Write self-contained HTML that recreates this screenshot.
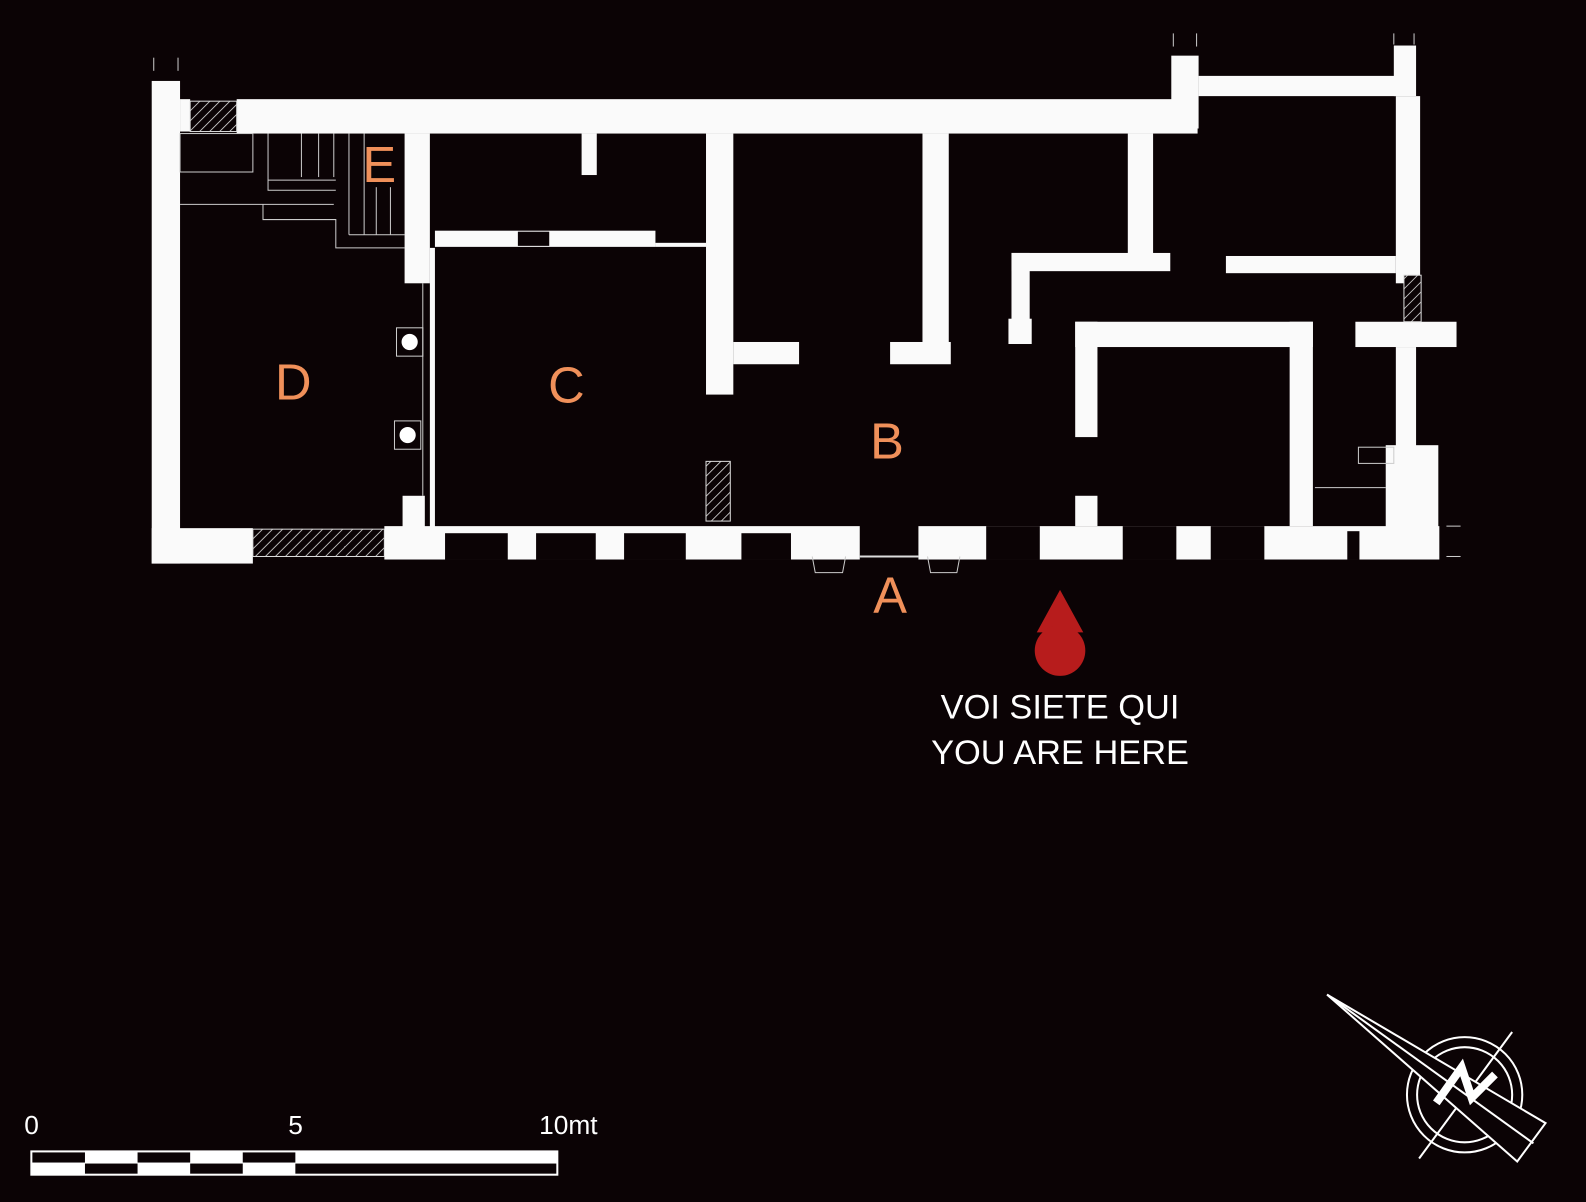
<!DOCTYPE html>
<html><head><meta charset="utf-8"><style>
html,body{margin:0;padding:0;background:#0b0305;}
svg{display:block}
text{font-family:"Liberation Sans",sans-serif;}
</style></head><body>
<svg width="1586" height="1202" viewBox="0 0 1568 1188" preserveAspectRatio="none" xmlns="http://www.w3.org/2000/svg">
<defs>
<pattern id="h" width="7" height="7" patternUnits="userSpaceOnUse" patternTransform="rotate(45)">
<rect width="7" height="7" fill="#0b0305"/><line x1="0" y1="0" x2="0" y2="7" stroke="#ddd" stroke-width="1.6"/></pattern>
</defs>
<rect width="1568" height="1188" fill="#0b0305"/>
<g fill="#fafafa">
<!-- outer left -->
<rect x="150" y="80" width="28" height="477"/>
<rect x="178" y="98" width="10" height="32"/>
<rect x="234" y="98" width="950" height="34"/>
<rect x="1158" y="55" width="27" height="72"/>
<rect x="1185" y="75" width="195" height="20"/>
<rect x="1378" y="45" width="22" height="50"/>
<rect x="1380" y="95" width="24" height="185"/>
<!-- bottom -->
<rect x="150" y="522" width="100" height="35"/>
<rect x="380" y="520" width="470" height="33"/>
<rect x="908" y="520" width="515" height="33"/>
<!-- E/C divider -->
<rect x="400" y="132" width="25" height="148"/>
<rect x="398" y="490" width="22" height="35"/>
<rect x="425" y="245" width="5" height="277"/>
<rect x="430" y="228" width="218" height="16"/>
<rect x="648" y="240" width="50" height="4"/>
<rect x="575" y="132" width="15" height="41"/>
<rect x="698" y="132" width="27" height="258"/>
<rect x="725" y="338" width="65" height="22"/>
<rect x="912" y="132" width="26" height="208"/>
<rect x="880" y="338" width="60" height="22"/>
<rect x="1115" y="132" width="25" height="120"/>
<rect x="1000" y="250" width="157" height="18"/>
<rect x="1000" y="250" width="18" height="90"/>
<rect x="997" y="315" width="23" height="25"/>
<rect x="1212" y="253" width="168" height="17"/>
<rect x="1063" y="318" width="235" height="25"/>
<rect x="1063" y="318" width="22" height="114"/>
<rect x="1275" y="318" width="23" height="202"/>
<rect x="1063" y="490" width="22" height="30"/>
<rect x="1340" y="318" width="100" height="25"/>
<rect x="1380" y="343" width="20" height="180"/>
<rect x="1370" y="440" width="52" height="110"/>
</g>
<!-- window gaps -->
<g fill="#0b0305">
<rect x="440" y="527" width="62" height="26"/><rect x="530" y="527" width="59" height="26"/>
<rect x="617" y="527" width="61" height="26"/><rect x="733" y="527" width="49" height="26"/>
<rect x="975" y="520" width="53" height="33"/><rect x="1110" y="520" width="53" height="33"/>
<rect x="1197" y="520" width="53" height="33"/><rect x="512" y="229" width="31" height="14"/>
<rect x="1332" y="525" width="12" height="28"/>
</g>
<rect x="250" y="523" width="130" height="27" fill="url(#h)" stroke="#ddd"/>
<rect x="188" y="100" width="46" height="30" fill="url(#h)" stroke="#ddd"/>
<rect x="698" y="456" width="24" height="59" fill="url(#h)" stroke="#ddd"/>
<rect x="1388" y="272" width="17" height="46" fill="url(#h)" stroke="#ddd"/>
<line x1="850" y1="550" x2="908" y2="550" stroke="#ddd" stroke-width="2"/>
<!-- stairs E -->
<g stroke="#ccc" stroke-width="1" fill="none">
<rect x="178" y="132" width="72" height="38"/><line x1="178" y1="202" x2="330" y2="202"/>
<polyline points="260,202 260,217 332,217 332,245 400,245"/>
<polyline points="265,132 265,188 332,188"/><line x1="298" y1="132" x2="298" y2="175"/>
<line x1="315" y1="132" x2="315" y2="175"/><line x1="330" y1="132" x2="330" y2="175"/>
<line x1="345" y1="132" x2="345" y2="232"/><line x1="360" y1="132" x2="360" y2="232"/>
<line x1="372" y1="185" x2="372" y2="232"/><line x1="386" y1="185" x2="386" y2="232"/>
<line x1="265" y1="178" x2="332" y2="178"/><line x1="345" y1="232" x2="400" y2="232"/>
<line x1="418" y1="280" x2="418" y2="490"/>
<line x1="1300" y1="482" x2="1370" y2="482"/><rect x="1343" y="442" width="35" height="16"/>
<line x1="1430" y1="520" x2="1444" y2="520"/><line x1="1430" y1="550" x2="1444" y2="550"/>
<line x1="152" y1="57" x2="152" y2="70"/><line x1="176" y1="57" x2="176" y2="70"/>
<line x1="1160" y1="33" x2="1160" y2="46"/><line x1="1183" y1="33" x2="1183" y2="46"/>
<line x1="1378" y1="33" x2="1378" y2="44"/><line x1="1398" y1="33" x2="1398" y2="44"/>
<rect x="392" y="324" width="26" height="28"/><rect x="390" y="416" width="26" height="28"/>
<path d="M803 550 L806 566 L833 566 L836 550"/><path d="M917 550 L920 566 L946 566 L949 550"/>
</g>
<circle cx="405" cy="338" r="8" fill="#fff"/><circle cx="403" cy="430" r="8" fill="#fff"/>
<g fill="#f0905a" font-size="50" text-anchor="middle">
<text x="290" y="395">D</text><text x="560" y="398">C</text><text x="877" y="453">B</text>
<text x="880" y="606">A</text><text x="375" y="180">E</text>
</g>
<polygon points="1048,583 1025,625 1071,625" fill="#b71c1c"/>
<circle cx="1048" cy="643" r="25" fill="#b71c1c"/>
<g fill="#fff" font-size="34" text-anchor="middle">
<text x="1048" y="710">VOI SIETE QUI</text><text x="1048" y="755">YOU ARE HERE</text>
</g>
<!-- scale -->
<g>
<rect x="30" y="1137" width="522" height="25" fill="#fff"/>
<g fill="#0b0305">
<rect x="32" y="1139" width="52" height="10"/><rect x="136" y="1139" width="52" height="10"/><rect x="240" y="1139" width="52" height="10"/>
<rect x="84" y="1150" width="52" height="10"/><rect x="188" y="1150" width="52" height="10"/>
<rect x="292" y="1150" width="258" height="10"/>
</g>
</g>
<g fill="#fff" font-size="26"><text x="24" y="1121">0</text><text x="285" y="1121">5</text><text x="533" y="1121">10mt</text></g>
<!-- compass -->
<g stroke="#fff" fill="none" stroke-width="2">
<circle cx="1448" cy="1082" r="57"/><circle cx="1448" cy="1082" r="47"/>
<line x1="1403" y1="1145" x2="1495" y2="1020"/>
<polygon points="1312,983 1528,1110 1500,1148" fill="#0b0305"/>
<line x1="1312" y1="983" x2="1516" y2="1130"/>
<polyline points="1420,1090 1445,1055 1455,1085 1478,1062" stroke-width="8"/>
</g>
</svg>
</body></html>
